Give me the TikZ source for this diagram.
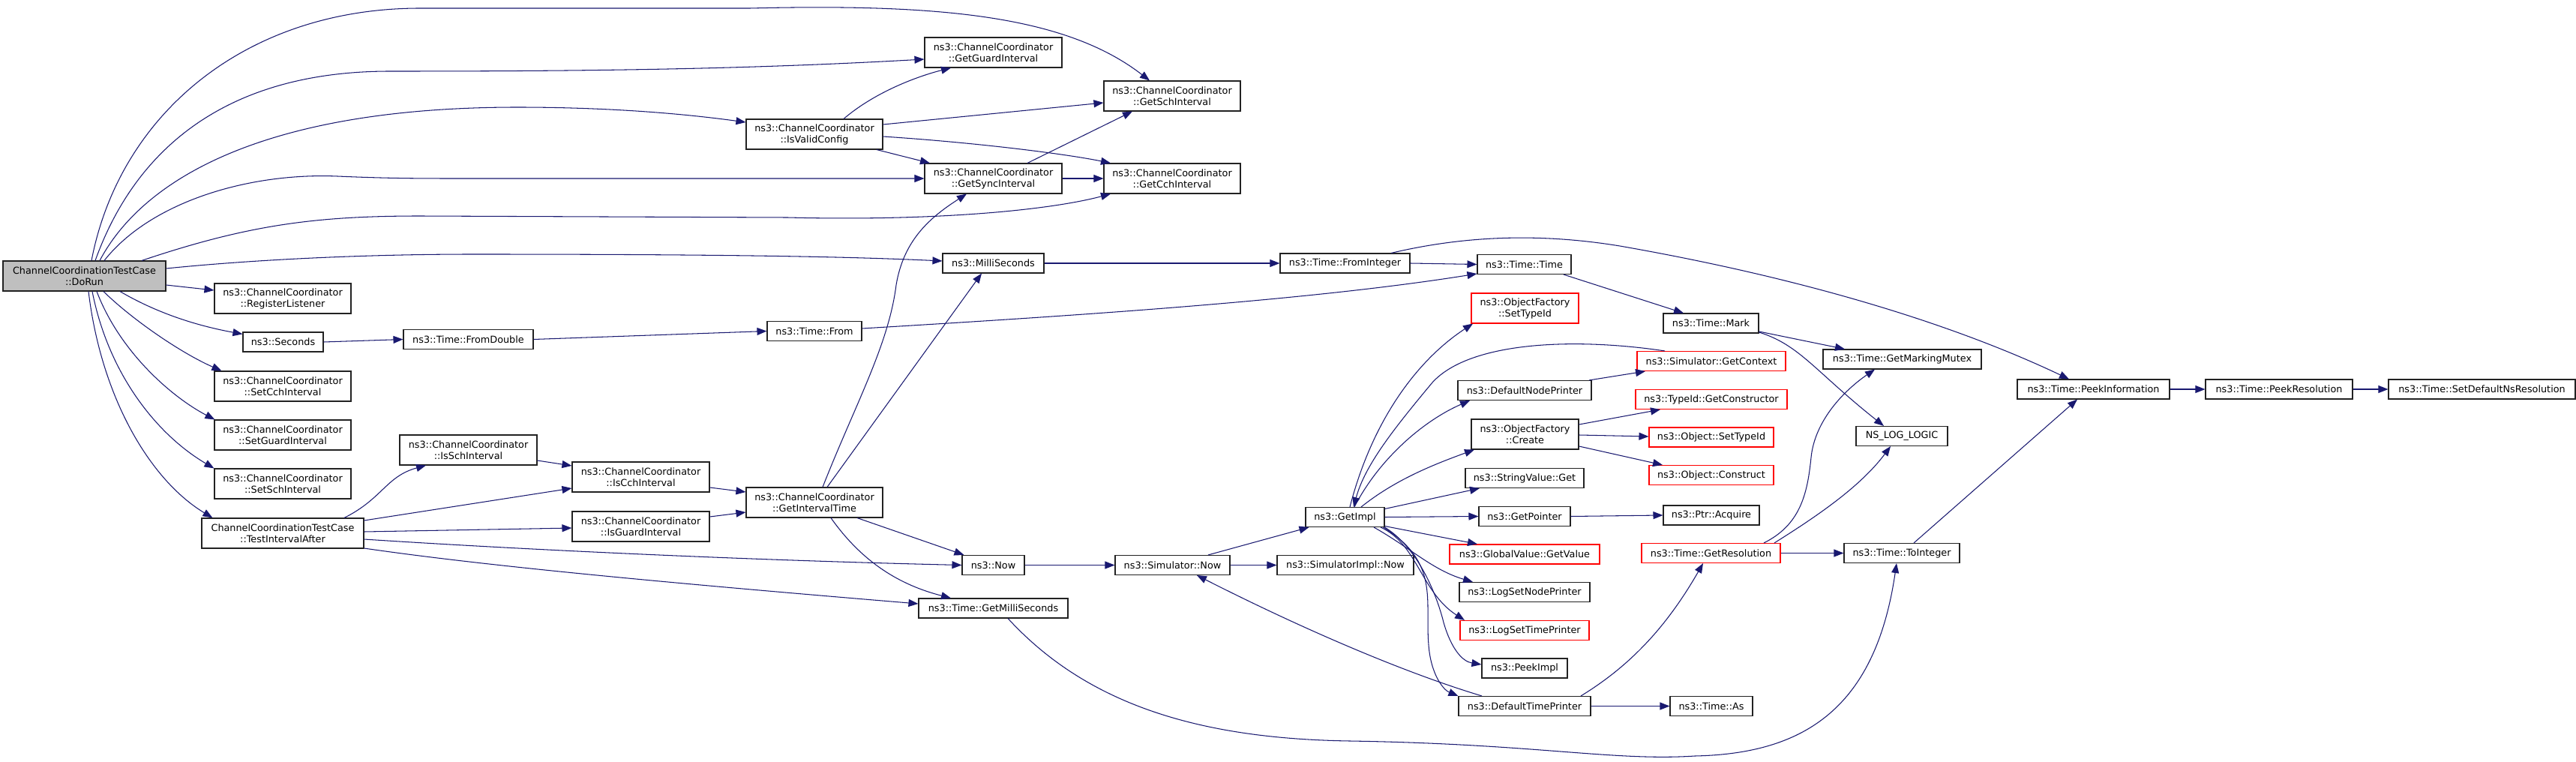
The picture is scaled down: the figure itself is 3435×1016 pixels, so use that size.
\documentclass[tikz,border=0pt]{standalone}
\usepackage{fontspec}
\setmainfont{DejaVu Sans}
\usetikzlibrary{arrows.meta}
\definecolor{edgec}{HTML}{191970}
\definecolor{redc}{HTML}{FF0000}
\definecolor{grayc}{HTML}{BFBFBF}
\definecolor{bordc}{HTML}{222222}
\begin{document}
\begin{tikzpicture}[x=1pt,y=-1pt,
  box/.style={draw=bordc, line width=1.1pt, fill=white, text=black, inner sep=0pt, align=center,
    font={\fontsize{12.8pt}{15pt}\selectfont}},
  one/.style={box, minimum height=26pt},
  two/.style={box, minimum height=40pt},
  red/.style={draw=redc},
  bw/.style={minimum width=#1},
  ed/.style={draw=edgec, line width=1.05pt, -{Triangle[length=13pt,width=10pt]}}]
\useasboundingbox (0,0) rectangle (3435,1016);
\fill[white] (0,0) rectangle (3435,1016);
% nodes
\node[two, bw=217pt, fill=grayc] (DoRun) at (112.5,368) {ChannelCoordinationTestCase\\::DoRun};
\node[two, bw=182pt] (RL) at (377,398) {ns3::ChannelCoordinator\\::RegisterListener};
\node[one, bw=107pt] (Seconds) at (377.5,456) {ns3::Seconds};
\node[one, bw=173pt] (FromDouble) at (624.5,452.5) {ns3::Time::FromDouble};
\node[two, bw=182pt] (SetCch) at (377,515) {ns3::ChannelCoordinator\\::SetCchInterval};
\node[two, bw=182pt] (SetGuard) at (377,580) {ns3::ChannelCoordinator\\::SetGuardInterval};
\node[two, bw=182pt] (SetSch) at (377,645) {ns3::ChannelCoordinator\\::SetSchInterval};
\node[two, bw=216pt] (TA) at (377,711) {ChannelCoordinationTestCase\\::TestIntervalAfter};
\node[two, bw=183pt] (IsSch) at (624.5,600) {ns3::ChannelCoordinator\\::IsSchInterval};
\node[two, bw=183pt] (IsCch) at (854.5,636) {ns3::ChannelCoordinator\\::IsCchInterval};
\node[two, bw=183pt] (IsGuard) at (854.5,702) {ns3::ChannelCoordinator\\::IsGuardInterval};
\node[two, bw=183pt] (GG) at (1324.5,70) {ns3::ChannelCoordinator\\::GetGuardInterval};
\node[two, bw=182pt] (GS) at (1563,128) {ns3::ChannelCoordinator\\::GetSchInterval};
\node[two, bw=182pt] (V) at (1086,179) {ns3::ChannelCoordinator\\::IsValidConfig};
\node[two, bw=183pt] (GSync) at (1324.5,238) {ns3::ChannelCoordinator\\::GetSyncInterval};
\node[two, bw=182pt] (GC) at (1563,238) {ns3::ChannelCoordinator\\::GetCchInterval};
\node[one, bw=135pt] (MS) at (1324.5,351) {ns3::MilliSeconds};
\node[one, bw=126pt] (TF) at (1086,441.5) {ns3::Time::From};
\node[two, bw=182pt] (IT) at (1086,670) {ns3::ChannelCoordinator\\::GetIntervalTime};
\node[one, bw=83pt] (Now) at (1324.5,753.5) {ns3::Now};
\node[one, bw=199pt] (GMS) at (1324.5,811) {ns3::Time::GetMilliSeconds};
\node[one, bw=153pt] (SimNow) at (1563.5,753.5) {ns3::Simulator::Now};
\node[one, bw=182pt] (SimImplNow) at (1794,753.5) {ns3::SimulatorImpl::Now};
\node[one, bw=173pt] (FromInteger) at (1793.5,351) {ns3::Time::FromInteger};
\node[one, bw=125pt] (TimeTime) at (2032.5,352.5) {ns3::Time::Time};
\node[two, bw=143pt, red] (OFSetTypeId) at (2033.5,411) {ns3::ObjectFactory\\::SetTypeId};
\node[one, bw=127pt] (Mark) at (2281.5,431) {ns3::Time::Mark};
\node[one, bw=198pt, red] (GetContext) at (2282,481.5) {ns3::Simulator::GetContext};
\node[one, bw=211pt] (GMM) at (2536.5,479) {ns3::Time::GetMarkingMutex};
\node[one, bw=178pt] (DNP) at (2033,520.5) {ns3::DefaultNodePrinter};
\node[one, bw=202pt, red] (GetConstructor) at (2282,532.5) {ns3::TypeId::GetConstructor};
\node[two, bw=143pt] (Create) at (2033.5,579) {ns3::ObjectFactory\\::Create};
\node[one, bw=166pt, red] (ObjSetTypeId) at (2282,583) {ns3::Object::SetTypeId};
\node[one, bw=122pt] (NSLOG) at (2536,581.5) {NS\_LOG\_LOGIC};
\node[one, bw=166pt, red] (Construct) at (2282,633.5) {ns3::Object::Construct};
\node[one, bw=158pt] (SVG) at (2033,637.5) {ns3::StringValue::Get};
\node[one, bw=105pt] (GetImpl) at (1793.5,689.5) {ns3::GetImpl};
\node[one, bw=122pt] (GetPointer) at (2033,688.5) {ns3::GetPointer};
\node[one, bw=128pt] (Acquire) at (2282,687) {ns3::Ptr::Acquire};
\node[one, bw=200pt, red] (GlobalValue) at (2033,739) {ns3::GlobalValue::GetValue};
\node[one, bw=185pt, red] (GetResolution) at (2281.5,737.5) {ns3::Time::GetResolution};
\node[one, bw=154pt] (ToInteger) at (2536,737.5) {ns3::Time::ToInteger};
\node[one, bw=174pt] (LSNP) at (2033,789.5) {ns3::LogSetNodePrinter};
\node[one, bw=172pt, red] (LSTP) at (2033,840.5) {ns3::LogSetTimePrinter};
\node[one, bw=114pt] (PeekImpl) at (2033,891) {ns3::PeekImpl};
\node[one, bw=176pt] (DTP) at (2033,941.5) {ns3::DefaultTimePrinter};
\node[one, bw=110pt] (TimeAs) at (2282,941.5) {ns3::Time::As};
\node[one, bw=203pt] (PeekInfo) at (2791.5,519) {ns3::Time::PeekInformation};
\node[one, bw=196pt] (PeekRes) at (3039,519) {ns3::Time::PeekResolution};
\node[one, bw=249pt] (SetDefault) at (3309.5,519) {ns3::Time::SetDefaultNsResolution};
% edges from DoRun
\draw[ed] ([xshift=9.5pt]DoRun.north) .. controls (160,150) and (330,11) .. (560,11) -- (1000,11) .. controls (1250,5) and (1420,20) .. ([xshift=-30pt]GS.north);
\draw[ed] ([xshift=14.5pt]DoRun.north) .. controls (180,200) and (300,95) .. (520,95) .. controls (800,95) and (1000,92) .. ([yshift=-9pt]GG.west);
\draw[ed] ([xshift=20.5pt]DoRun.north) .. controls (190,240) and (350,143) .. (690,143) .. controls (800,143) and (900,150) .. ([yshift=16pt]V.west);
\draw[ed] ([xshift=26.5pt]DoRun.north) .. controls (200,270) and (330,230) .. (450,235) .. controls (520,238) and (560,238) .. (620,238) -- (GSync.west);
\draw[ed] ([xshift=76.5pt]DoRun.north) .. controls (330,300) and (420,288) .. (560,288) -- (1050,290) .. controls (1250,295) and (1400,280) .. ([xshift=-82pt]GC.south);
\draw[ed] ([yshift=10pt]DoRun.east) .. controls (350,345) and (500,339) .. (631,339) .. controls (1000,339) and (1150,343) .. ([yshift=3pt]MS.west);
\draw[ed] ([yshift=-12pt]DoRun.east) -- ([yshift=11pt]RL.west);
\draw[ed] ([xshift=47.5pt]DoRun.south) .. controls (200,412) and (250,432) .. ([yshift=-3pt]Seconds.north west);
\draw[ed] ([xshift=25.5pt]DoRun.south) .. controls (175,425) and (240,470) .. ([xshift=10pt]SetCch.north west);
\draw[ed] ([xshift=16.5pt]DoRun.south) .. controls (160,470) and (230,530) .. ([xshift=1pt]SetGuard.north west);
\draw[ed] ([xshift=10.5pt]DoRun.south) .. controls (145,500) and (210,580) .. (SetSch.north west);
\draw[ed] ([xshift=5.5pt]DoRun.south) .. controls (135,530) and (200,640) .. ([xshift=15pt]TA.north west);
% IsValidConfig
\draw[ed] ([xshift=39pt]V.north) .. controls (1170,120) and (1230,100) .. ([xshift=-56.5pt]GG.south);
\draw[ed] ([yshift=13pt]V.east) -- ([yshift=-9pt]GS.west);
\draw[ed] ([yshift=-3pt]V.east) .. controls (1300,190) and (1420,205) .. ([xshift=-82pt]GC.north);
\draw[ed] ([xshift=83pt]V.south) -- ([xshift=-84.5pt]GSync.north);
% GetSyncInterval
\draw[ed] ([xshift=45.5pt]GSync.north) -- ([xshift=-53pt]GS.south);
\draw[ed] (GSync.east) -- (GC.west);
% GetIntervalTime
\draw[ed] ([xshift=11pt]IT.north) .. controls (1140,540) and (1185,460) .. (1195,380) .. controls (1205,320) and (1240,290) .. ([xshift=-35.5pt]GSync.south);
\draw[ed] ([xshift=17pt]IT.north) -- ([xshift=-15.5pt]MS.south);
\draw[ed] ([xshift=57pt]IT.south) -- ([xshift=3pt]Now.north west);
\draw[ed] ([xshift=22pt]IT.south) .. controls (1150,750) and (1200,780) .. ([xshift=-56.5pt]GMS.north);
\draw[ed] ([yshift=-14pt]IsCch.east) -- ([yshift=14pt]IT.west);
\draw[ed] ([yshift=13pt]IsGuard.east) -- ([yshift=-13pt]IT.west);
\draw[ed] ([yshift=-14pt]IsSch.east) -- ([yshift=15pt]IsCch.west);
% TestIntervalAfter
\draw[ed] ([xshift=82pt]TA.north) .. controls (510,665) and (515,635) .. ([xshift=-56.5pt]IsSch.south);
\draw[ed] ([yshift=17pt]TA.east) -- ([yshift=-15pt]IsCch.west);
\draw[ed] ([yshift=2pt]TA.east) -- ([yshift=-2pt]IsGuard.west);
\draw[ed] ([yshift=-8pt]TA.east) .. controls (700,733) and (1000,747) .. (Now.west);
\draw[ed] ([yshift=-20pt]TA.east) .. controls (650,755) and (900,778) .. ([yshift=6pt]GMS.west);
% time chain
\draw[ed] (Seconds.east) -- (FromDouble.west);
\draw[ed] (FromDouble.east) -- (TF.west);
\draw[ed] ([yshift=3.5pt]TF.east) .. controls (1450,420) and (1750,400) .. ([yshift=-12.5pt]TimeTime.west);
\draw[ed] (MS.east) -- (FromInteger.west);
\draw[ed] (FromInteger.east) -- (TimeTime.west);
\draw[ed] ([xshift=61.5pt]FromInteger.north) .. controls (1950,315) and (2050,310) .. (2160,328) .. controls (2400,370) and (2600,430) .. ([xshift=-32.5pt]PeekInfo.north);
\draw[ed] ([xshift=52.5pt]TimeTime.south) -- ([xshift=-36.5pt]Mark.north);
\draw[ed] ([yshift=-11pt]Mark.east) -- ([xshift=-76.5pt]GMM.north);
\draw[ed] ([yshift=-12pt]Mark.east) .. controls (2400,460) and (2420,495) .. ([xshift=-24pt]NSLOG.north);
\draw[ed] (Now.east) -- (SimNow.west);
\draw[ed] ([xshift=47.5pt]SimNow.north) -- ([xshift=5pt]GetImpl.south west);
\draw[ed] (SimNow.east) -- (SimImplNow.west);
\draw[ed] ([xshift=19.5pt]GMS.south) .. controls (1450,940) and (1600,985) .. (1800,988) .. controls (2050,992) and (2150,1015) .. (2260,1008) .. controls (2400,1005) and (2500,950) .. ([xshift=-7pt]ToInteger.south);
% GetImpl
\draw[ed] ([xshift=-62pt]GetContext.north) .. controls (2100,450) and (1960,455) .. (1910,510) .. controls (1860,570) and (1820,620) .. ([xshift=11.5pt]GetImpl.north);
\draw[ed] ([xshift=6.5pt]GetImpl.north) .. controls (1830,560) and (1890,480) .. ([xshift=-69.5pt]OFSetTypeId.south);
\draw[ed] ([xshift=12.5pt]GetImpl.north) .. controls (1840,610) and (1900,560) .. ([xshift=-73pt]DNP.south);
\draw[ed] ([xshift=21.5pt]GetImpl.north) .. controls (1860,640) and (1910,620) .. ([xshift=-67.5pt]Create.south);
\draw[ed] ([yshift=11pt]GetImpl.east) -- ([xshift=-60pt]SVG.south);
\draw[ed] (GetImpl.east) -- (GetPointer.west);
\draw[ed] ([yshift=-12pt]GetImpl.east) -- ([xshift=-63pt]GlobalValue.north);
\draw[ed] ([xshift=38.5pt]GetImpl.south) .. controls (1880,730) and (1910,760) .. ([xshift=-69pt]LSNP.north);
\draw[ed] ([xshift=47.5pt]GetImpl.south) .. controls (1890,725) and (1895,790) .. ([xshift=-80pt]LSTP.north);
\draw[ed] (GetImpl.south east) .. controls (1890,730) and (1915,790) .. (1925,830) .. controls (1935,865) and (1950,882) .. ([yshift=5pt]PeekImpl.west);
\draw[ed] ([xshift=-2pt]GetImpl.south east) .. controls (1920,750) and (1900,800) .. (1905,860) .. controls (1908,900) and (1925,920) .. (DTP.north west);
\draw[ed] ([xshift=-57pt]DTP.north) .. controls (1850,890) and (1700,820) .. ([xshift=32.5pt]SimNow.south);
\draw[ed] (DTP.east) -- (TimeAs.west);
\draw[ed] ([xshift=75pt]DTP.north) .. controls (2170,890) and (2220,840) .. ([xshift=-10.5pt]GetResolution.south);
\draw[ed] ([xshift=86pt]DNP.north) -- ([xshift=-88pt]GetContext.south);
\draw[ed] ([yshift=13pt]Create.east) -- ([xshift=-68pt]GetConstructor.south);
\draw[ed] ([yshift=-1pt]Create.east) -- ([yshift=1pt]ObjSetTypeId.west);
\draw[ed] ([yshift=-16pt]Create.east) -- ([xshift=-65pt]Construct.north);
\draw[ed] (GetPointer.east) -- (Acquire.west);
\draw[ed] ([xshift=70.5pt]GetResolution.north) .. controls (2400,700) and (2410,660) .. (2415,610) .. controls (2420,560) and (2460,520) .. ([xshift=-36.5pt]GMM.south);
\draw[ed] ([xshift=84.5pt]GetResolution.north) .. controls (2420,690) and (2480,650) .. ([xshift=-15pt]NSLOG.south);
\draw[ed] (GetResolution.east) -- (ToInteger.west);
\draw[ed] ([xshift=16pt]ToInteger.north) -- ([xshift=-21.5pt]PeekInfo.south);
\draw[ed] (PeekInfo.east) -- (PeekRes.west);
\draw[ed] (PeekRes.east) -- (SetDefault.west);
\end{tikzpicture}
\end{document}
